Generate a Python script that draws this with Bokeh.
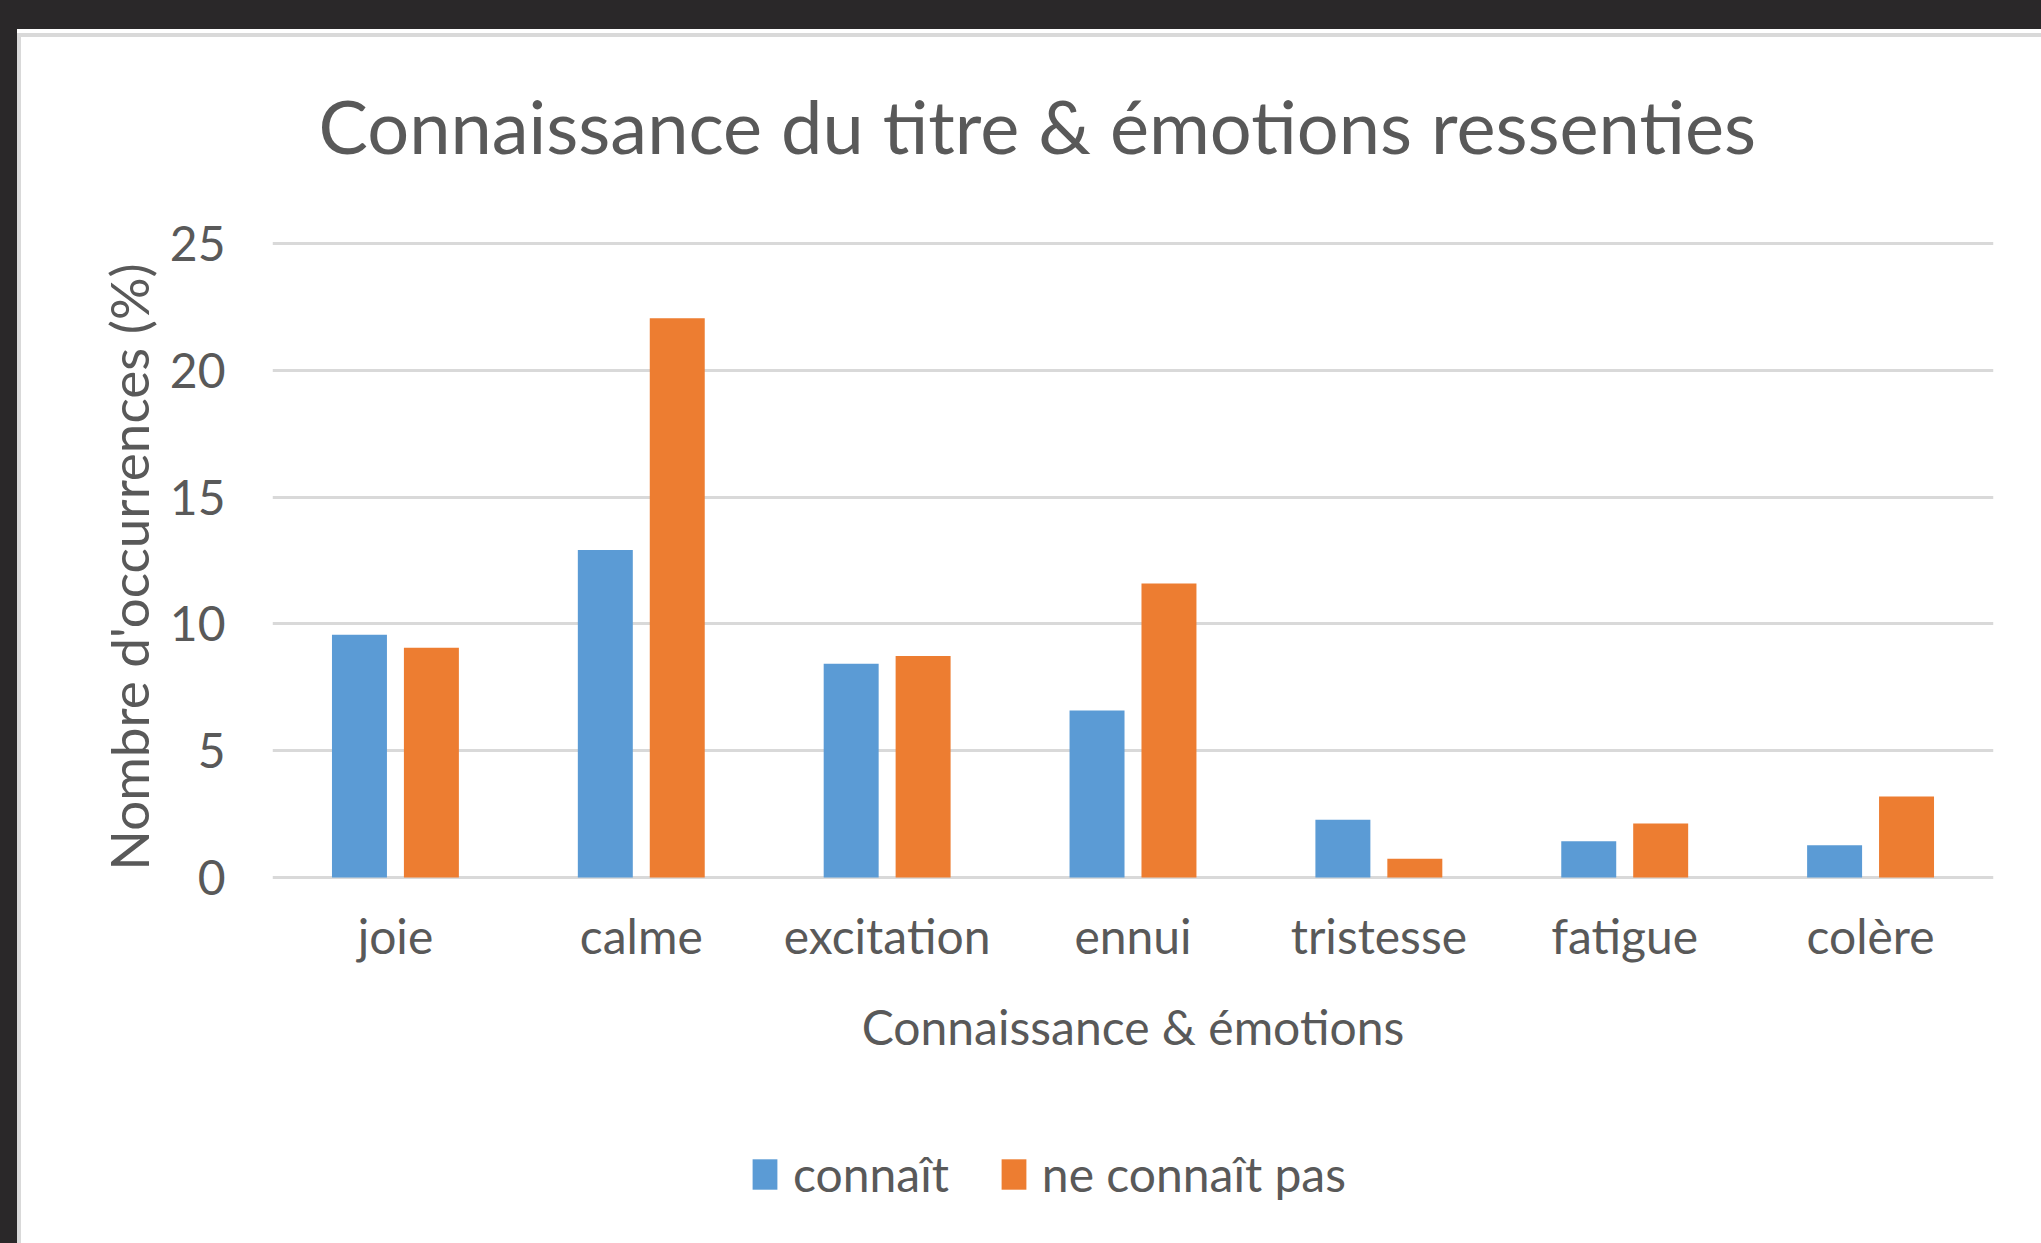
from bokeh.plotting import figure
from bokeh.layouts import column
from bokeh.models import (FactorRange, Range1d, Legend, LegendItem, Title,
                          FixedTicker, ColumnDataSource)
from bokeh.transform import dodge
from bokeh.embed import file_html
from bokeh.resources import INLINE

# ---- data -------------------------------------------------------------
categories = ["joie", "calme", "excitation", "ennui", "tristesse", "fatigue", "colère"]
connait = [9.57, 12.91, 8.43, 6.59, 2.28, 1.43, 1.27]
ne_connait_pas = [9.06, 22.05, 8.73, 11.59, 0.74, 2.13, 3.19]
series_names = ["connaît", "ne connaît pas"]
y_ticks = [0, 5, 10, 15, 20, 25]
title_text = "Connaissance du titre & émotions ressenties"
x_title = "Connaissance & émotions"
y_title = "Nombre d'occurrences (%)"

# ---- style ------------------------------------------------------------
FONT = "Lato"
TXT = "#595959"
BLUE = "#5b9bd5"
ORANGE = "#ed7d31"
GRID = "#d9d9d9"
W = 2041
H_MAIN, H_LEG = 1095, 148

src = ColumnDataSource(dict(cat=categories, a=connait, b=ne_connait_pas))

p = figure(x_range=FactorRange(*categories), y_range=Range1d(-0.3155, 25.513),
           width=W, height=H_MAIN, output_backend="svg", toolbar_location=None,
           min_border_left=272, min_border_right=48, min_border_top=230,
           min_border_bottom=210, background_fill_color="white",
           border_fill_alpha=0)
p.outline_line_color = None

r1 = p.vbar(x=dodge("cat", -0.1463, range=p.x_range), top="a", width=0.2236,
            source=src, fill_color=BLUE, line_color=None)
r2 = p.vbar(x=dodge("cat", 0.1463, range=p.x_range), top="b", width=0.2236,
            source=src, fill_color=ORANGE, line_color=None)

# grid
p.xgrid.visible = False
p.ygrid.ticker = FixedTicker(ticks=y_ticks)
p.ygrid.grid_line_color = GRID
p.ygrid.grid_line_width = 3

# y axis (tick labels; its title is a Title on the left)
ya = p.yaxis[0]
ya.ticker = FixedTicker(ticks=y_ticks)
ya.axis_line_color = None
ya.major_tick_line_color = None
ya.minor_tick_line_color = None
ya.major_tick_out = 0
ya.major_label_standoff = 47
ya.major_label_text_font = FONT
ya.major_label_text_font_size = "48px"
ya.major_label_text_color = TXT

ylab = Title(text=y_title, align="left", offset=15, text_font=FONT,
             text_font_size="53px", text_font_style="normal", text_color=TXT,
             standoff=13)
p.add_layout(ylab, "left")

# x axis (tick labels; its title is a Title below it)
xa = p.xaxis[0]
xa.axis_line_color = None
xa.major_tick_line_color = None
xa.minor_tick_line_color = None
xa.major_tick_out = 0
xa.major_label_standoff = 21
xa.major_label_text_font = FONT
xa.major_label_text_font_size = "48px"
xa.major_label_text_color = TXT

xlab = Title(text=x_title, align="center", text_font=FONT, text_font_size="48px",
             text_font_style="normal", text_color=TXT, standoff=58)
p.add_layout(xlab, "below")

# title
p.title.text = title_text
p.title.text_font = FONT
p.title.text_font_size = "74px"
p.title.text_font_style = "normal"
p.title.text_color = TXT
p.title.align = "left"
p.title.offset = 46
p.title.standoff = 122

# ---- legend strip (its own small canvas under the chart) ----------------
pl = figure(width=W, height=H_LEG, x_range=Range1d(0, 1), y_range=Range1d(0, 1),
            output_backend="svg", toolbar_location=None, min_border=0,
            x_axis_type=None, y_axis_type=None, border_fill_alpha=0,
            background_fill_alpha=0)
pl.outline_line_color = None
pl.grid.visible = False
# key swatches only: one zero-height bar each, outside the visible range
key_src = ColumnDataSource(dict(x=[-1.0], top=[0.0]))
k1 = pl.vbar(x="x", top="top", width=0.1, source=key_src, fill_color=BLUE,
             line_color=None)
k2 = pl.vbar(x="x", top="top", width=0.1, source=key_src, fill_color=ORANGE,
             line_color=None)
legend = Legend(items=[LegendItem(label=series_names[0], renderers=[k1]),
                       LegendItem(label=series_names[1], renderers=[k2])],
                orientation="horizontal", location=(477, 41),
                glyph_width=31, glyph_height=38, label_standoff=13, spacing=49,
                padding=0, margin=0, border_line_color=None,
                background_fill_alpha=0, label_text_font=FONT,
                label_text_font_size="48px", label_text_color=TXT,
                label_text_baseline="alphabetic")
pl.add_layout(legend)

layout = column(p, pl, spacing=0)

# page: dark window border, white strip, light chart border (CSS only;
# the figures' borders are transparent so this shows through)
tpl = """{% block postamble %}<style>
html, body { margin: 0 !important; padding: 0 !important; overflow: hidden; }
body {
  background:
    linear-gradient(#d9d9d9, #d9d9d9) 17px 33px / 3000px 4px no-repeat,
    linear-gradient(#d9d9d9, #d9d9d9) 17px 33px / 4px 3000px no-repeat,
    linear-gradient(#ffffff, #ffffff) 17px 29px / 3000px 3000px no-repeat,
    #2a2829 !important; }
</style>{% endblock %}"""
open("out.html", "w").write(file_html(layout, INLINE, template=tpl))
